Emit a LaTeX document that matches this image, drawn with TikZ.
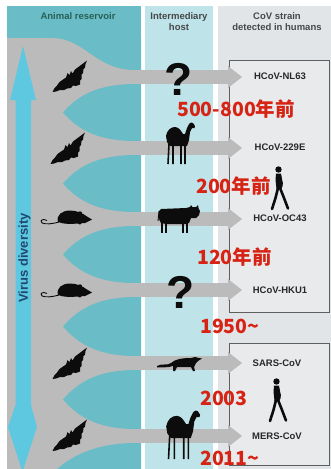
\documentclass[tikz,border=0pt]{standalone}
\usepackage{fontspec}
\setmainfont{Liberation Sans}
\newfontfamily\cjk{Noto Sans CJK JP}
\definecolor{resteal}{RGB}{106,189,199}
\definecolor{hostblue}{RGB}{190,227,232}
\definecolor{humangrey}{RGB}{226,229,231}
\definecolor{boxfill}{RGB}{232,234,236}
\definecolor{flowgrey}{RGB}{188,187,187}
\definecolor{divblue}{RGB}{94,200,224}
\definecolor{divtext}{RGB}{30,72,112}
\definecolor{headteal}{RGB}{40,95,85}
\definecolor{headgrey}{RGB}{70,72,74}
\definecolor{strainink}{RGB}{40,40,40}
\definecolor{yearred}{RGB}{215,35,20}
\definecolor{boxline}{RGB}{95,95,95}
\definecolor{silhink}{RGB}{12,12,12}
\tikzset{
  header/.style={font=\fontsize{9.5}{11}\selectfont\bfseries, text=headgrey, align=center, inner sep=0pt},
  strain/.style={font=\fontsize{9.5}{11}\selectfont\bfseries, text=strainink, inner sep=0pt},
  yearlbl/.style={font=\cjk\bfseries\fontsize{19.5}{22}\selectfont, text=yearred, inner sep=0pt, anchor=west},
  qmark/.style={font=\fontsize{46}{46}\selectfont\bfseries, text=silhink, inner sep=0pt},
  strainbox/.style={draw=boxline, line width=0.9pt, fill=boxfill},
  % animal and human silhouettes, local frame: origin at the top-left corner
  batpic/.pic={
    \fill[silhink] (35,0.5) -- (33.5,4) -- (33,7.5) -- (31.5,9) -- (31,13) -- (29.5,14.5)
      -- (29.5,19) -- (28,20.5) -- (28,24.5) -- (24,26) -- (21,25.5) -- (19,28) -- (15,28.5)
      -- (12,30) -- (8,30) -- (4,31.5) -- (0.5,32)
      -- (2.5,28) -- (5,25.5) -- (7.5,22) -- (11,19.5) -- (14,17.5) -- (15.5,13)
      -- (17.5,15) -- (19,11) -- (20.5,13.5) -- (23,9.5) -- (27,6.5) -- (31,3.5) -- cycle;
  },
  ratpic/.pic={
    \fill[silhink] (18,12) .. controls (16,5) and (22,0.5) .. (30,0.5)
      .. controls (37,0.5) and (43,3.5) .. (47,6.5) -- (52,9.5) -- (48,11.5)
      -- (45,13) -- (42,13) -- (40,14.5) -- (38,13.5)
      .. controls (32,14) and (24,14.5) .. (18,12) -- cycle;
    \fill[silhink] (40,3.5) circle (2.2);
    \draw[silhink, line width=0.9pt] (19,12) .. controls (12,14) and (6,14.5) .. (2,13)
      .. controls (0,12) and (1,9.5) .. (4,9.5) -- (7,10.5);
  },
  camelpic/.pic={
    \fill[silhink] (2,20) -- (1,14) .. controls (2,8) and (6,5) .. (10,5)
      .. controls (14,5) and (16,9) .. (18,12) -- (20,12) -- (22,6) -- (24,2)
      -- (26,0.5) -- (28,1) -- (30,4) -- (29.5,6) -- (27,6) -- (25,10) -- (24,18)
      -- (22,24) -- (5,24) -- cycle;
    \draw[silhink, line width=1.6pt] (4,22) -- (3,42) (8,23) -- (8,42)
      (16,23) -- (16,42) (20,22) -- (20,42);
  },
  cowpic/.pic={
    \fill[silhink] (1,6) -- (3,4) -- (28,3) -- (32,2) -- (33,0) -- (34.5,2) -- (38,2)
      -- (40,0) -- (40.5,3) -- (42,6) -- (41,10) -- (38,13) -- (33,13) -- (31,18)
      -- (27,19) -- (8,19) -- (3,18) -- (1,14) -- cycle;
    \draw[silhink, line width=2pt] (4,16) -- (4,28) (8,17) -- (8,28)
      (25,17) -- (25,28) (29,16) -- (29,28);
    \draw[silhink, line width=0.9pt] (1,6) -- (0,16);
  },
  civetpic/.pic={
    \fill[silhink] (0,9) .. controls (5,6) and (10,9) .. (14,6)
      .. controls (18,2) and (26,1) .. (34,1) -- (38,0) -- (42,1) -- (45,1.5)
      -- (41,4) -- (39,6) -- (37,10) -- (38,14) -- (36,14) -- (34,10) -- (20,10)
      -- (18,14) -- (16,14) -- (16,9) .. controls (10,11) and (5,10) .. (0,10.5) -- cycle;
  },
  walkerpic/.pic={
    \fill[silhink] (8.5,3.5) circle (3.2);
    \fill[silhink] (6,7.5) -- (11,7.5) -- (12,14) -- (11.5,23) -- (6.5,23) -- (5.5,14) -- cycle;
    \draw[silhink, line width=2.6pt, line cap=round, line join=round]
      (8,22) -- (5.5,32) -- (2,43) (10,22) -- (14,32) -- (18,42.5);
    \draw[silhink, line width=1.8pt, line cap=round] (10,9) -- (12,17) -- (11.5,21);
  },
}
\begin{document}
\begin{tikzpicture}[x=1pt,y=-1pt]
\useasboundingbox (0,0) rectangle (331,469);
\fill[white] (0,0) rectangle (331,469);

% column backgrounds
\fill[resteal]   (7,6)   rectangle (141,469);
\fill[hostblue]  (145,6) rectangle (213,469);
\fill[humangrey] (218,6) rectangle (331,469);

% column headers
\node[header, text=headteal] (hres)  at (78,16)  {Animal reservoir};
\node[header] (hhost) at (179,21.5) {Intermediary\\host};
\node[header] (hhum)  at (277,21.5) {CoV strain\\detected in humans};

% grey reservoir trunk, split into one funnel per strain
\fill[flowgrey] (7,38) rectangle (141,469);
\fill[resteal] (52,38) .. controls (85,38) and (95,70) .. (135,70) -- (141,70) -- (141,38) -- cycle;
\foreach \a/\b in {77/148, 148/219, 219/290, 290/363, 363/436}{
  \pgfmathsetmacro{\m}{(\a+\b)/2}
  \fill[resteal] (63,\m) .. controls (76,\m-15) and (95,\a+7) .. (135,\a+7) -- (141,\a+7)
    -- (141,\b-7) -- (135,\b-7) .. controls (95,\b-7) and (76,\m+15) .. (63,\m) -- cycle;
}
\fill[resteal] (52,474) .. controls (68,457) and (95,443) .. (135,443) -- (141,443) -- (141,469) -- (55,469) -- cycle;

% virus diversity arrow
\fill[divblue] (23,46) -- (36,100) -- (31,100) -- (31,405) -- (37,427) -- (22.5,472)
  -- (8,427) -- (15.5,405) -- (15.5,100) -- (10,100) -- cycle;
\node[rotate=90, font=\fontsize{13}{15}\selectfont\bfseries, text=divtext, inner sep=0pt] (vd) at (24.5,258) {Virus diversity};

% strain boxes
\draw[strainbox] (229,60)  rectangle (329,312);
\draw[strainbox] (229,343) rectangle (329,465);

% flow arrows into the human column
\foreach \c in {77,148,219,290,363,436}{
  \fill[flowgrey] (130,\c-7) rectangle (229,\c+7);
  \fill[flowgrey] (228,\c-11) -- (242,\c) -- (228,\c+11) -- cycle;
}

% strain names
\node[strain] (s1) at (280,76)  {HCoV-NL63};
\node[strain] (s2) at (280,147) {HCoV-229E};
\node[strain] (s3) at (280,218) {HCoV-OC43};
\node[strain] (s4) at (280,290) {HCoV-HKU1};
\node[strain] (s5) at (277,363) {SARS-CoV};
\node[strain] (s6) at (277,436) {MERS-CoV};

% reservoir animals
\pic at (52,60)  {batpic};
\pic at (50,132) {batpic};
\pic at (40,210) {ratpic};
\pic at (40,283) {ratpic};
\pic at (52,347) {batpic};
\pic at (52,419) {batpic};

% intermediary hosts
\node[qmark] (q1) at (179,79.5) {?};
\pic at (165,122) {camelpic};
\pic at (158,205) {cowpic};
\node[qmark] (q4) at (181,292.5) {?};
\pic at (157,357) {civetpic};
\pic[scale=1.17] at (165,410) {camelpic};

% humans
\pic at (270,166) {walkerpic};
\pic at (268,378) {walkerpic};

% time of emergence
\node[yearlbl] (y1) at (177,109) {500-800年前};
\node[yearlbl] (y2) at (196,186) {200年前};
\node[yearlbl] (y3) at (197,257) {120年前};
\node[yearlbl] (y4) at (200,326) {1950\textasciitilde};
\node[yearlbl] (y5) at (200,398) {2003};
\node[yearlbl] (y6) at (200,458) {2011\textasciitilde};
\end{tikzpicture}
\end{document}
